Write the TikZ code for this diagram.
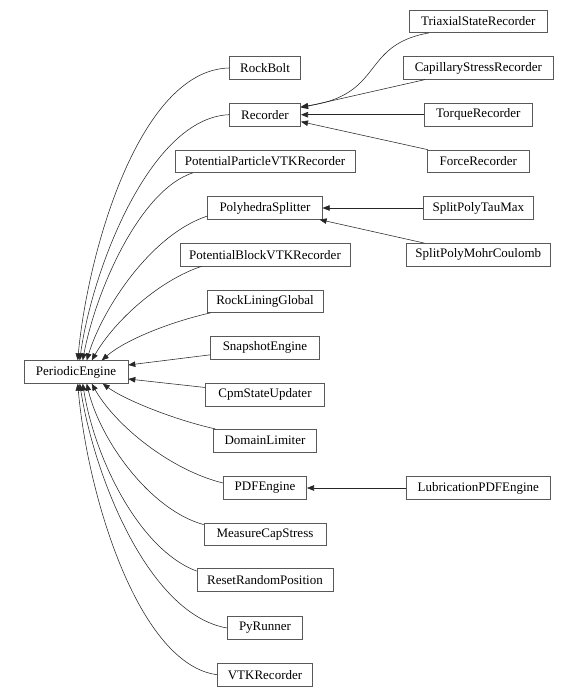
\documentclass[tikz,border=0pt]{standalone}
\usepackage{fontspec}
\setmainfont{Liberation Serif}
\usetikzlibrary{arrows.meta}
\begin{document}
\begin{tikzpicture}[x=1pt,y=-1pt,
  cls/.style={draw=black!65, line width=0.6pt, fill=white, minimum height=22.6pt, inner sep=0pt,
    font=\fontsize{13}{15}\selectfont},
  inh/.style={draw=black!85, line width=0.55pt, -{Triangle[length=7pt,width=5.5pt]}}]
\useasboundingbox[fill=white] (0,0) rectangle (578,696);
% root
\node[cls, minimum width=104pt] (pe) at (76,372) {PeriodicEngine};
% column 2
\node[cls, minimum width=71.4pt] (rb) at (265,68) {RockBolt};
\node[cls, minimum width=71.4pt] (rec) at (265,114.7) {Recorder};
\node[cls, minimum width=180pt] (ppvtk) at (265,161.3) {PotentialParticleVTKRecorder};
\node[cls, minimum width=114.6pt] (ps) at (265,208) {PolyhedraSplitter};
\node[cls, minimum width=170pt] (pbvtk) at (265,254.7) {PotentialBlockVTKRecorder};
\node[cls, minimum width=116pt] (rlg) at (265,301.2) {RockLiningGlobal};
\node[cls, minimum width=108.6pt] (se) at (265,347.8) {SnapshotEngine};
\node[cls, minimum width=119pt] (cpm) at (265,394.5) {CpmStateUpdater};
\node[cls, minimum width=102.7pt] (dl) at (265,440.5) {DomainLimiter};
\node[cls, minimum width=83.4pt] (pdf) at (265,488) {PDFEngine};
\node[cls, minimum width=122pt] (mcs) at (265,534.2) {MeasureCapStress};
\node[cls, minimum width=136pt] (rrp) at (265,579.7) {ResetRandomPosition};
\node[cls, minimum width=75pt] (pyr) at (265,628) {PyRunner};
\node[cls, minimum width=95pt] (vtk) at (265,674.7) {VTKRecorder};
% column 3
\node[cls, minimum width=138pt] (tsr) at (478.3,21.3) {TriaxialStateRecorder};
\node[cls, minimum width=150pt] (csr) at (478.3,68) {CapillaryStressRecorder};
\node[cls, minimum width=108pt] (tq) at (478.3,114.7) {TorqueRecorder};
\node[cls, minimum width=102pt] (fr) at (478.3,161.3) {ForceRecorder};
\node[cls, minimum width=110pt] (sptm) at (478.3,208) {SplitPolyTauMax};
\node[cls, minimum width=143.3pt] (spmc) at (478.3,254.7) {SplitPolyMohrCoulomb};
\node[cls, minimum width=144.7pt] (lub) at (478.3,488) {LubricationPDFEngine};
% edges to PeriodicEngine (top)
\draw[inh] (rb.west) .. controls (140,70) and (88,250) .. ([xshift=54pt]pe.north west);
\draw[inh] (rec.west) .. controls (150,118) and (92,270) .. ([xshift=56pt]pe.north west);
\draw[inh] ([xshift=18pt]ppvtk.south west) .. controls (140,190) and (96,290) .. ([xshift=59pt]pe.north west);
\draw[inh] ([yshift=-8pt]ps.west) .. controls (150,235) and (102,310) .. ([xshift=63pt]pe.north west);
\draw[inh] ([xshift=22pt]pbvtk.south west) .. controls (160,280) and (115,320) .. ([xshift=68pt]pe.north west);
\draw[inh] ([xshift=4pt]rlg.south west) .. controls (170,322) and (125,340) .. ([xshift=78pt]pe.north west);
% edges to PeriodicEngine (right)
\draw[inh] ([yshift=-7pt]se.west) -- ([yshift=7pt]pe.east);
\draw[inh] ([yshift=7pt]cpm.west) -- ([yshift=-7pt]pe.east);
% edges to PeriodicEngine (bottom)
\draw[inh] ([xshift=2pt]dl.north west) .. controls (175,420) and (125,400) .. ([xshift=79pt]pe.south west);
\draw[inh] ([yshift=5pt]pdf.west) .. controls (170,470) and (115,425) .. ([xshift=68pt]pe.south west);
\draw[inh] ([yshift=-2pt]mcs.north west) .. controls (150,510) and (100,440) .. ([xshift=63pt]pe.south west);
\draw[inh] ([yshift=-3pt]rrp.north west) .. controls (140,550) and (95,460) .. ([xshift=59pt]pe.south west);
\draw[inh] (pyr.west) .. controls (150,615) and (95,480) .. ([xshift=56pt]pe.south west);
\draw[inh] (vtk.west) .. controls (140,665) and (88,500) .. ([xshift=54pt]pe.south west);
% Recorder children
\draw[inh] ([xshift=20pt]tsr.south west) .. controls (360,45) and (385,95) .. ([yshift=8pt]rec.east);
\draw[inh] ([xshift=22pt]csr.south west) -- ([yshift=7pt]rec.east);
\draw[inh] (tq.west) -- (rec.east);
\draw[inh] ([xshift=1pt]fr.north west) -- ([yshift=-7pt]rec.east);
% PolyhedraSplitter children
\draw[inh] (sptm.west) -- (ps.east);
\draw[inh] ([xshift=18pt]spmc.north west) -- ([xshift=-3pt]ps.south east);
% PDFEngine child
\draw[inh] (lub.west) -- (pdf.east);
\end{tikzpicture}
\end{document}
